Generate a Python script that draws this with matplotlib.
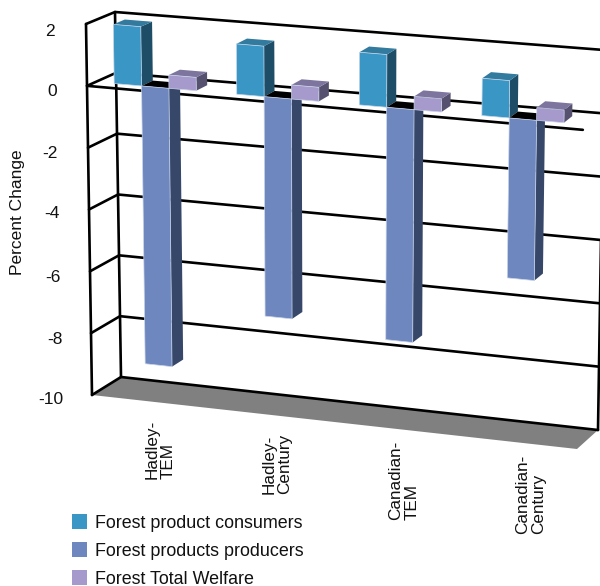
import matplotlib
matplotlib.use("Agg")
import matplotlib.pyplot as plt
from matplotlib.patches import Polygon, Rectangle

plt.rcParams['font.family'] = ['Liberation Sans', 'DejaVu Sans']

scenarios = ['Hadley-\nTEM', 'Hadley-\nCentury', 'Canadian-\nTEM', 'Canadian-\nCentury']
series_names = ['Forest product consumers', 'Forest products producers', 'Forest Total Welfare']
consumers = [1.92, 1.62, 1.68, 1.18]
producers = [-9.0, -7.05, -7.4, -5.05]
welfare = [0.43, 0.45, 0.42, 0.4]
y_ticks = [2, 0, -2, -4, -6, -8, -10]

V_TOP, V_BOTTOM = 2, -10

# box corners in pixels, (x, value) -> position, front plane and back plane
FRONT = {'lt': (86, 24), 'lb': (92, 395), 'rt': (584, 66), 'rb': (577, 449)}
BACK = {'lt': (115, 12), 'lb': (121, 377), 'rt': (604, 50), 'rb': (598, 430)}

def lerp(a, b, t):
  return a + (b - a) * t

def proj(x, v, d):
  # x: category units 0-4, v: percent change, d: depth 0 (front) to 1 (back)
  s = x / 4.0
  t = (V_TOP - v) / (V_TOP - V_BOTTOM)
  pts = []
  for plane in (FRONT, BACK):
    left = [lerp(plane['lt'][i], plane['lb'][i], t) for i in (0, 1)]
    right = [lerp(plane['rt'][i], plane['rb'][i], t) for i in (0, 1)]
    pts.append([lerp(left[i], right[i], s) for i in (0, 1)])
  return lerp(pts[0][0], pts[1][0], d), lerp(pts[0][1], pts[1][1], d)

def draw_bar(ax, x0, x1, value, front, side, top):
  d0, d1 = 0.3, 0.7
  hi, lo = max(value, 0), min(value, 0)
  zo = 5
  ax.add_patch(Polygon([proj(x1, hi, d0), proj(x1, hi, d1), proj(x1, lo, d1), proj(x1, lo, d0)],
                       closed=True, fc=side, ec='none', zorder=zo))
  ax.add_patch(Polygon([proj(x0, hi, d0), proj(x1, hi, d0), proj(x1, hi, d1), proj(x0, hi, d1)],
                       closed=True, fc=top, ec='none', zorder=zo))
  ax.add_patch(Polygon([proj(x0, hi, d0), proj(x1, hi, d0), proj(x1, lo, d0), proj(x0, lo, d0)],
                       closed=True, fc=front, ec='#c9d6ea', lw=0.5, zorder=zo))

fig = plt.figure(figsize=(6, 5.86), dpi=100)
ax = fig.add_axes([0, 0, 1, 1])
ax.set_xlim(0, 600)
ax.set_ylim(586, 0)
ax.axis('off')

# floor
ax.add_patch(Polygon([proj(0, V_BOTTOM, 0), proj(0, V_BOTTOM, 1), proj(4, V_BOTTOM, 1), proj(4, V_BOTTOM, 0)],
                     closed=True, fc='#808080', ec='none', zorder=1))

# walls and gridlines
line = dict(color='black', lw=1.9, zorder=2, solid_capstyle='round')
for v in y_ticks:
  ax.plot(*zip(proj(0, v, 0), proj(0, v, 1), proj(4, v, 1)), **line)
ax.plot(*zip(proj(0, V_TOP, 0), proj(0, V_BOTTOM, 0)), **line)
ax.plot(*zip(proj(0, V_TOP, 1), proj(0, V_BOTTOM, 1)), **line)
ax.plot(*zip(proj(4, V_TOP, 1), proj(4, V_BOTTOM, 1)), **line)
ax.plot(*zip(proj(0, 0, 0), proj(4, 0, 0)), **line)

# bars, left to right within each scenario
bar_w = 0.222
start = 0.15
pitch = 0.994
for i in range(len(scenarios)):
  x = i * pitch + start
  draw_bar(ax, x, x + bar_w, consumers[i], '#3A96C4', '#1E4D68', '#327A9E')
  x += bar_w
  draw_bar(ax, x, x + bar_w, producers[i], '#6F87BF', '#36476A', '#000000')
  x += bar_w
  draw_bar(ax, x, x + bar_w, welfare[i], '#A699CB', '#56516F', '#7E759F')

# value axis labels follow the slanted left edge
label_right = [55, 57, 58, 60, 61, 63, 63]
label_mid = [31, 91, 153, 214, 277, 339, 399]
for v, px, py in zip(y_ticks, label_right, label_mid):
  ax.text(px, py, str(v), ha='right', va='center', fontsize=12.5, color='#111111')
ax.text(18, 212, 'Percent Change', rotation=90, ha='center', va='center', fontsize=12.5, color='#111111')

# category labels
label_x = [160, 277, 404, 531]
label_y = [479, 494, 520, 534]
for name, lx, ly in zip(scenarios, label_x, label_y):
  ax.text(lx, ly, name, rotation=90, ha='center', va='bottom', multialignment='left',
          fontsize=12.3, linespacing=1.08, color='#111111')

# legend
colors = ['#3A96C4', '#6F87BF', '#A699CB']
for name, c, py in zip(series_names, colors, [522, 550, 578]):
  ax.add_patch(Rectangle((72, py - 8), 15, 15, fc=c, ec='none'))
  ax.text(95, py + 1, name, ha='left', va='center', fontsize=12.87, color='#111111')

fig.savefig('out.png', dpi=100)
